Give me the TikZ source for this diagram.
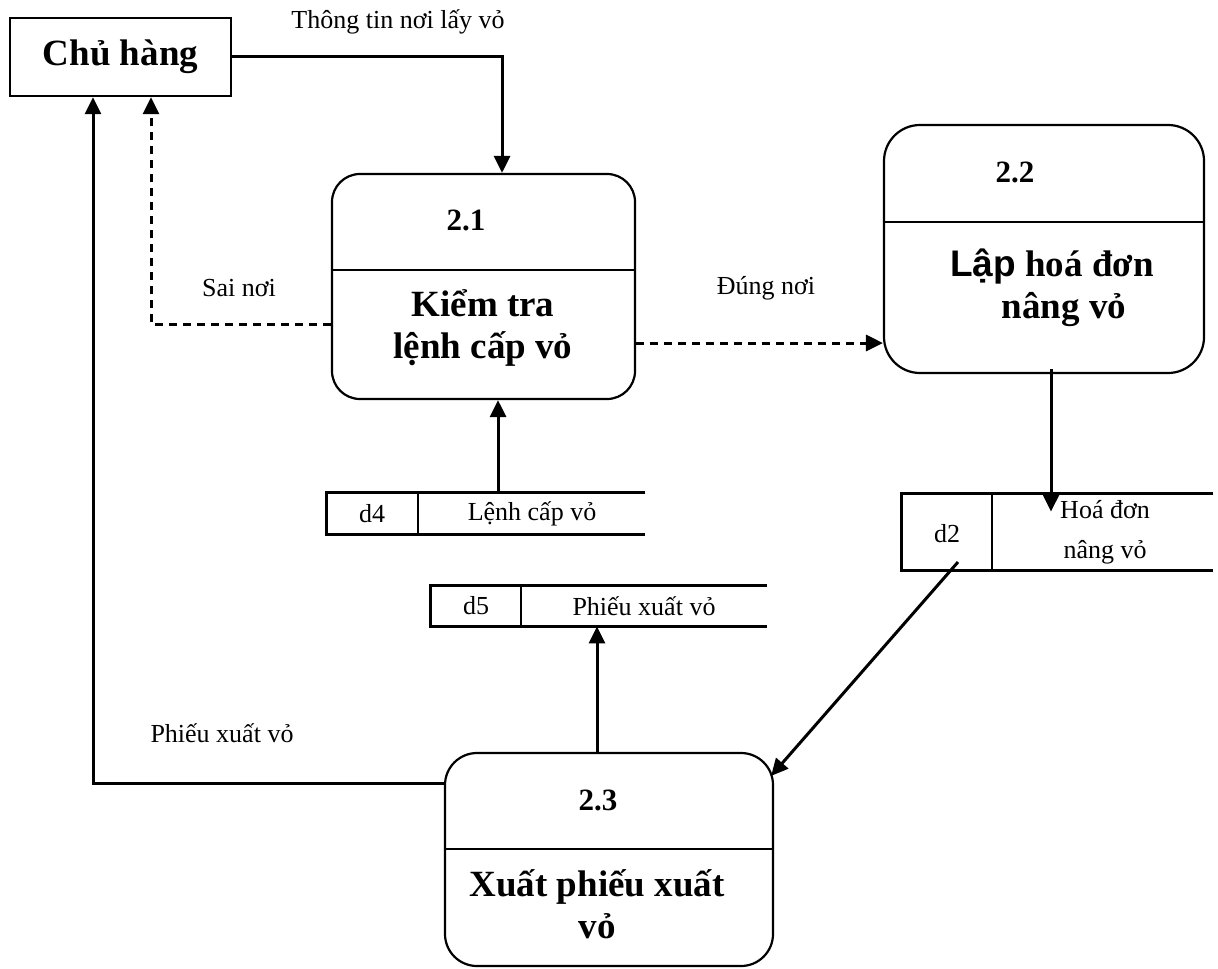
\documentclass[tikz,border=0pt]{standalone}
\usepackage{fontspec}
\setmainfont{Liberation Serif}
\newfontfamily\labsans{Liberation Sans}
\usetikzlibrary{arrows.meta}
\begin{document}
\begin{tikzpicture}[x=0.5pt,y=-0.5pt,
  proc/.style={draw,line width=1.1pt,rounded corners=15pt,inner sep=0pt},
  ext/.style={draw,line width=1.2pt,inner sep=0pt,minimum width=110.5pt,minimum height=39pt,
    font=\bfseries\fontsize{18.5}{22}\selectfont},
  store/.style={inner sep=0pt},
  lbl/.style={font=\fontsize{13}{15}\selectfont,inner sep=0pt},
  num/.style={font=\bfseries\fontsize{15.5}{18}\selectfont,inner sep=0pt},
  pname/.style={font=\bfseries\fontsize{18.5}{20.75}\selectfont,align=center,inner sep=0pt},
  divline/.style={line width=1.1pt},
  sline/.style={line width=1.25pt},
  flow/.style={line width=1.5pt,-{Triangle[length=8.5pt,width=8pt]}},
  flowd/.style={flow,dash pattern=on 4pt off 3pt}
]
\useasboundingbox (0,0) rectangle (1218,968);

% external entity
\node[ext] (ch) at (120.5,57) {Chủ hàng};

% processes
\node[proc,rounded corners=14pt,minimum width=151.5pt,minimum height=112.5pt] (p21) at (483.5,286.5) {};
\node[proc,rounded corners=18pt,minimum width=160pt,minimum height=124pt] (p22) at (1044,249) {};
\node[proc,rounded corners=16pt,minimum width=164pt,minimum height=106.5pt] (p23) at (609,859.5) {};

\path (0,270) coordinate (d21) (0,222) coordinate (d22) (0,849) coordinate (d23);
\draw[divline] (p21.west |- d21) -- (p21.east |- d21);
\draw[divline] (p22.west |- d22) -- (p22.east |- d22);
\draw[divline] (p23.west |- d23) -- (p23.east |- d23);

\node[num] (n21) at (466,220) {2.1};
\node[pname] (t21) at (483,328) {Kiểm tra\\lệnh cấp vỏ};
\node[num] (n22) at (1015,172) {2.2};
\node[pname] (t22) at (1052,288) {{\labsans Lập} hoá đơn\\\hspace*{12pt}nâng vỏ};
\node[num] (n23) at (598,800) {2.3};
\node[pname] (t23) at (597,904) {Xuất phiếu xuất\\vỏ};

% data stores
\node[store,minimum width=159pt,minimum height=20.5pt] (s4) at (486,513.5) {};
\node[store,minimum width=168pt,minimum height=20pt] (s5) at (599,606) {};
\node[store,minimum width=155.5pt,minimum height=38pt] (s2) at (1057.5,532) {};
\path (418,0) coordinate (v4) (521,0) coordinate (v5) (992,0) coordinate (v2);
\foreach \s/\v in {s4/v4,s5/v5,s2/v2}{
  \draw[sline] (\s.north east) -- (\s.north west) -- (\s.south west) -- (\s.south east);
  \draw[sline] (\v |- \s.north) -- (\v |- \s.south);
}
\node[lbl] (s4id) at (372,513.5) {d4};
\node[lbl] (s4nm) at (532,513.5) {Lệnh cấp vỏ};
\node[lbl] (s5id) at (476,606) {d5};
\node[lbl] (s5nm) at (644,606) {Phiếu xuất vỏ};
\node[lbl] (s2id) at (947,534) {d2};
\node[lbl,align=center,font=\fontsize{13}{20}\selectfont] (s2nm) at (1105,532) {Hoá đơn\\nâng vỏ};

% flows
\draw[flow] (ch.east) -| ([xshift=9.25pt]p21.north);
\draw[flow] ([xshift=6pt]s4.north) -- ([xshift=6pt]s4.north |- p21.south);
\draw[flowd] ([yshift=-18.75pt]p21.west) -| ([xshift=15.25pt]ch.south);
\draw[flowd] ([yshift=-28.25pt]p21.east) -- ([yshift=-28.25pt]p21.east -| p22.west);
\draw[flow] ([xshift=3.5pt,yshift=2.5pt]p22.south) -- ([xshift=3.5pt,yshift=-9pt]p22.south |- s2.north);
\draw[flow] ([xshift=-49.75pt,yshift=-15pt]s2.center) -- ([xshift=-1.5pt,yshift=-12pt]p23.north east);
\draw[flow] ([xshift=-6pt]p23.north) -- ([xshift=-6pt]p23.north |- s5.south);
\draw[flow] ([yshift=38.25pt]p23.west) -| ([xshift=-13.75pt]ch.south);

% flow labels
\node[lbl] (l1) at (398,22) {Thông tin nơi lấy vỏ};
\node[lbl] (l2) at (239,288) {Sai nơi};
\node[lbl] (l3) at (766,288) {Đúng nơi};
\node[lbl] (l4) at (222,733) {Phiếu xuất vỏ};
\end{tikzpicture}
\end{document}
